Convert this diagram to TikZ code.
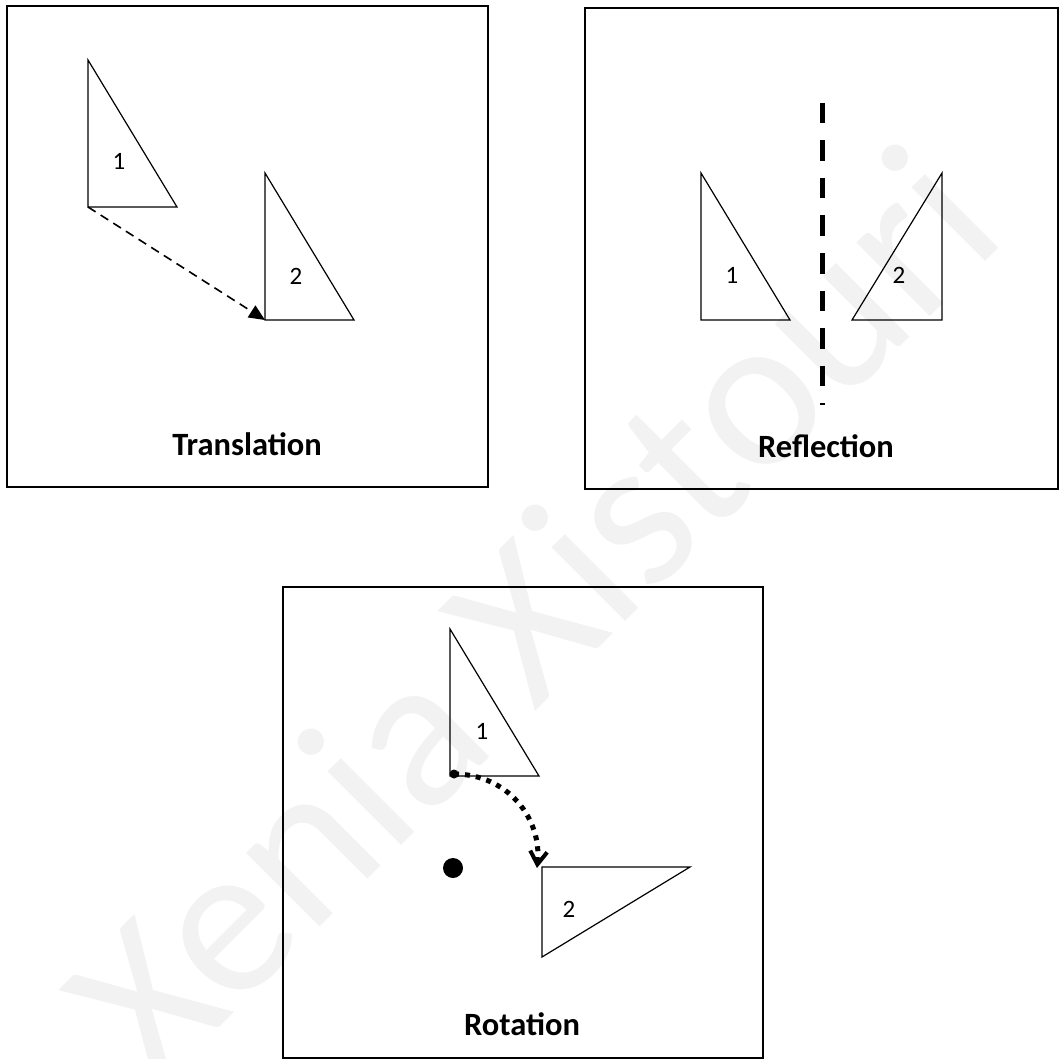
\documentclass[tikz,border=0pt]{standalone}
\usepackage{fontspec}
\setmainfont{Carlito}
\usetikzlibrary{arrows.meta}
\tikzset{
    panel/.style={draw, line width=1.6pt},
    tri/.style={draw, line width=1.2pt, line join=miter},
    num/.style={inner sep=0pt, anchor=base, font=\fontsize{25}{25}\selectfont},
    title/.style={inner sep=0pt, anchor=base, font=\bfseries\fontsize{32.5}{32.5}\selectfont},
}
\begin{document}
\begin{tikzpicture}[x=1pt, y=-1pt]
    \useasboundingbox (0,0) rectangle (1059,1059);
    % 水印
    \node[rotate=45, text=black!5, inner sep=0pt, font=\fontsize{218}{218}\selectfont]
        (wmark) at (530,612) {Xenia Xistouri};

    % 平移
    \begin{scope}[shift={(7,6)}]
        \draw[panel] (0,0) rectangle (481,481);
        \coordinate (tA1) at (81,201);
        \coordinate (tA2) at (258,314);
        \draw[tri] (81,54) -- (tA1) -- (170,201) -- cycle;
        \draw[tri] (258,167) -- (tA2) -- (347,314) -- cycle;
        \node[num] (tn1) at (112,164) {1};
        \node[num] (tn2) at (289,278) {2};
        % 虚线箭头：图形1 → 图形2
        \draw[line width=1.6pt, dash pattern=on 9pt off 6pt, -{Triangle[length=16pt, width=14pt]}]
            (tA1) -- (tA2);
        \node[title] (ttl) at (240,449) {Translation};
    \end{scope}

    % 反射
    \begin{scope}[shift={(585,8)}]
        \draw[panel] (0,0) rectangle (473,481);
        % 对称轴
        \draw[line width=5pt, dash pattern=on 20.5pt off 17pt] (237,95) -- (237,397);
        \draw[tri] (116,165) -- (116,312) -- (205,312) -- cycle;
        \draw[tri] (357,165) -- (357,312) -- (267,312) -- cycle;
        \node[num] (rn1) at (147,275) {1};
        \node[num] (rn2) at (314,275) {2};
        \node[title] (rtl) at (241,449) {Reflection};
    \end{scope}

    % 旋转
    \begin{scope}[shift={(283,587)}]
        \draw[panel] (0,0) rectangle (480,471);
        \draw[tri] (167,42) -- (167,189) -- (256,189) -- cycle;
        \draw[tri] (259,280) -- (259,370) -- (407,280) -- cycle;
        \node[num] (on1) at (199,152) {1};
        \node[num] (on2) at (286,330) {2};
        % 旋转中心
        \fill (170,281) circle (10);
        \coordinate (oA) at (171,187);
        \coordinate (oB) at (254,281);
        \fill (oA) circle (4.5);
        % 点线弧形箭头
        \draw[line width=5pt, dash pattern=on 5pt off 6pt,
              -{Straight Barb[length=13pt, width=17pt, line width=4pt]}]
            (oA) .. controls (225,187) and (259,232) .. (oB);
        \node[title] (otl) at (239,448) {Rotation};
    \end{scope}
\end{tikzpicture}
\end{document}
